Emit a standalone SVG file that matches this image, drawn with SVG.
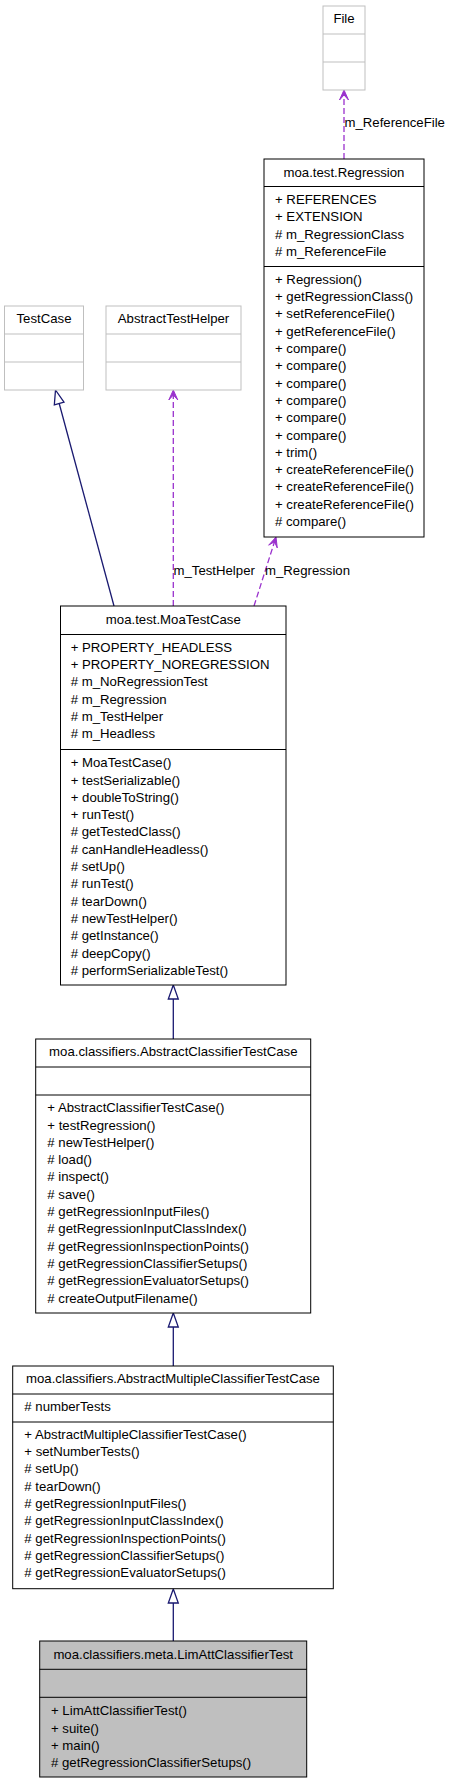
<svg xmlns="http://www.w3.org/2000/svg" width="449" height="1784" viewBox="0 0 449 1784">
<style>
text{font-family:"Liberation Sans",Arial,Helvetica,sans-serif;font-size:13.2px;fill:#000}
.t{text-anchor:middle}
.box{fill:#fff;stroke:#000;stroke-width:1}
.ext{fill:#fff;stroke:#bfbfbf;stroke-width:1}
.cur{fill:#bfbfbf;stroke:#000;stroke-width:1}
.dv{stroke:#000;stroke-width:1}
.dvx{stroke:#bfbfbf;stroke-width:1}
.inh{fill:none;stroke:#191970;stroke-width:1.3}
.inhh{fill:#fff;stroke:#191970;stroke-width:1.3}
.use{fill:none;stroke:#9a32cd;stroke-width:1.3;stroke-dasharray:6,3}
.useh{fill:#9a32cd;stroke:#9a32cd;stroke-width:1}
</style>
<rect width="449" height="1784" fill="#fff"/>
<g id="connectors">
<line class="use" x1="344" y1="159" x2="344" y2="95"/>
<polygon class="useh" points="344,90 339.5,100 344,95 348.5,100"/>
<text x="344.5" y="127.2">m_ReferenceFile</text>
<line class="inh" x1="114" y1="606" x2="59.2" y2="403.5"/>
<polygon class="inhh" points="55.5,390 63.98,402.2 54.33,404.8"/>
<line class="use" x1="173.3" y1="606" x2="173.3" y2="395"/>
<polygon class="useh" points="173.3,390 168.8,400 173.3,395 177.8,400"/>
<text x="173.5" y="575.2">m_TestHelper</text>
<line class="use" x1="254" y1="606" x2="274.5" y2="541.8"/>
<polygon class="useh" points="276,537 277.25,547.9 274.48,541.77 268.67,545.16"/>
<text x="265" y="575.2">m_Regression</text>
<line class="inh" x1="173.3" y1="1039" x2="173.3" y2="999"/>
<polygon class="inhh" points="173.3,985 178.3,999 168.3,999"/>
<line class="inh" x1="173.3" y1="1366" x2="173.3" y2="1327"/>
<polygon class="inhh" points="173.3,1313 178.3,1327 168.3,1327"/>
<line class="inh" x1="173.3" y1="1641" x2="173.3" y2="1603"/>
<polygon class="inhh" points="173.3,1589 178.3,1603 168.3,1603"/>
</g>
<g id="File">
<rect class="ext" x="323" y="6" width="42" height="84"/>
<line class="dvx" x1="323" y1="34" x2="365" y2="34"/>
<line class="dvx" x1="323" y1="62" x2="365" y2="62"/>
<text class="t" x="344" y="22.8">File</text>
</g>
<g id="Regression">
<rect class="box" x="264" y="159" width="160" height="378"/>
<line class="dv" x1="264" y1="186.5" x2="424" y2="186.5"/>
<line class="dv" x1="264" y1="266.5" x2="424" y2="266.5"/>
<text class="t" x="344" y="176.5">moa.test.Regression</text>
<text x="275" y="204">+ REFERENCES</text>
<text x="275" y="221.3">+ EXTENSION</text>
<text x="275" y="238.6"># m_RegressionClass</text>
<text x="275" y="255.9"># m_ReferenceFile</text>
<text x="275" y="283.8">+ Regression()</text>
<text x="275" y="301.1">+ getRegressionClass()</text>
<text x="275" y="318.4">+ setReferenceFile()</text>
<text x="275" y="335.7">+ getReferenceFile()</text>
<text x="275" y="353">+ compare()</text>
<text x="275" y="370.3">+ compare()</text>
<text x="275" y="387.6">+ compare()</text>
<text x="275" y="404.9">+ compare()</text>
<text x="275" y="422.2">+ compare()</text>
<text x="275" y="439.5">+ compare()</text>
<text x="275" y="456.8">+ trim()</text>
<text x="275" y="474.1">+ createReferenceFile()</text>
<text x="275" y="491.4">+ createReferenceFile()</text>
<text x="275" y="508.7">+ createReferenceFile()</text>
<text x="275" y="526"># compare()</text>
</g>
<g id="TestCase">
<rect class="ext" x="4.5" y="306" width="79" height="84"/>
<line class="dvx" x1="4.5" y1="334" x2="83.5" y2="334"/>
<line class="dvx" x1="4.5" y1="362" x2="83.5" y2="362"/>
<text class="t" x="44" y="322.8">TestCase</text>
</g>
<g id="AbstractTestHelper">
<rect class="ext" x="106" y="306" width="135" height="84"/>
<line class="dvx" x1="106" y1="334" x2="241" y2="334"/>
<line class="dvx" x1="106" y1="362" x2="241" y2="362"/>
<text class="t" x="173.5" y="322.8">AbstractTestHelper</text>
</g>
<g id="MoaTestCase">
<rect class="box" x="60.5" y="606" width="225.5" height="379"/>
<line class="dv" x1="60.5" y1="634.5" x2="286" y2="634.5"/>
<line class="dv" x1="60.5" y1="749.5" x2="286" y2="749.5"/>
<text class="t" x="173.3" y="624.2">moa.test.MoaTestCase</text>
<text x="70.7" y="651.8">+ PROPERTY_HEADLESS</text>
<text x="70.7" y="669.1">+ PROPERTY_NOREGRESSION</text>
<text x="70.7" y="686.4"># m_NoRegressionTest</text>
<text x="70.7" y="703.7"># m_Regression</text>
<text x="70.7" y="721"># m_TestHelper</text>
<text x="70.7" y="738.3"># m_Headless</text>
<text x="70.7" y="767.2">+ MoaTestCase()</text>
<text x="70.7" y="784.5">+ testSerializable()</text>
<text x="70.7" y="801.8">+ doubleToString()</text>
<text x="70.7" y="819.1">+ runTest()</text>
<text x="70.7" y="836.4"># getTestedClass()</text>
<text x="70.7" y="853.7"># canHandleHeadless()</text>
<text x="70.7" y="871"># setUp()</text>
<text x="70.7" y="888.3"># runTest()</text>
<text x="70.7" y="905.6"># tearDown()</text>
<text x="70.7" y="922.9"># newTestHelper()</text>
<text x="70.7" y="940.2"># getInstance()</text>
<text x="70.7" y="957.5"># deepCopy()</text>
<text x="70.7" y="974.8"># performSerializableTest()</text>
</g>
<g id="AbstractClassifierTestCase">
<rect class="box" x="35.7" y="1039" width="275" height="274"/>
<line class="dv" x1="35.7" y1="1067" x2="310.7" y2="1067"/>
<line class="dv" x1="35.7" y1="1095" x2="310.7" y2="1095"/>
<text class="t" x="173.3" y="1056.2">moa.classifiers.AbstractClassifierTestCase</text>
<text x="47.3" y="1112.2">+ AbstractClassifierTestCase()</text>
<text x="47.3" y="1129.5">+ testRegression()</text>
<text x="47.3" y="1146.8"># newTestHelper()</text>
<text x="47.3" y="1164.1"># load()</text>
<text x="47.3" y="1181.4"># inspect()</text>
<text x="47.3" y="1198.7"># save()</text>
<text x="47.3" y="1216"># getRegressionInputFiles()</text>
<text x="47.3" y="1233.3"># getRegressionInputClassIndex()</text>
<text x="47.3" y="1250.6"># getRegressionInspectionPoints()</text>
<text x="47.3" y="1267.9"># getRegressionClassifierSetups()</text>
<text x="47.3" y="1285.2"># getRegressionEvaluatorSetups()</text>
<text x="47.3" y="1302.5"># createOutputFilename()</text>
</g>
<g id="AbstractMultipleClassifierTestCase">
<rect class="box" x="12.7" y="1366" width="320.6" height="222.7"/>
<line class="dv" x1="12.7" y1="1394" x2="333.3" y2="1394"/>
<line class="dv" x1="12.7" y1="1422" x2="333.3" y2="1422"/>
<text class="t" x="173" y="1382.8">moa.classifiers.AbstractMultipleClassifierTestCase</text>
<text x="24.3" y="1410.8"># numberTests</text>
<text x="24.3" y="1438.8">+ AbstractMultipleClassifierTestCase()</text>
<text x="24.3" y="1456.1">+ setNumberTests()</text>
<text x="24.3" y="1473.4"># setUp()</text>
<text x="24.3" y="1490.7"># tearDown()</text>
<text x="24.3" y="1508"># getRegressionInputFiles()</text>
<text x="24.3" y="1525.3"># getRegressionInputClassIndex()</text>
<text x="24.3" y="1542.6"># getRegressionInspectionPoints()</text>
<text x="24.3" y="1559.9"># getRegressionClassifierSetups()</text>
<text x="24.3" y="1577.2"># getRegressionEvaluatorSetups()</text>
</g>
<g id="LimAttClassifierTest">
<rect class="cur" x="39.7" y="1641" width="267" height="136"/>
<line class="dv" x1="39.7" y1="1669.3" x2="306.7" y2="1669.3"/>
<line class="dv" x1="39.7" y1="1697.3" x2="306.7" y2="1697.3"/>
<text class="t" x="173.2" y="1658.8">moa.classifiers.meta.LimAttClassifierTest</text>
<text x="51" y="1715.2">+ LimAttClassifierTest()</text>
<text x="51" y="1732.5">+ suite()</text>
<text x="51" y="1749.8">+ main()</text>
<text x="51" y="1767.1"># getRegressionClassifierSetups()</text>
</g>
</svg>
